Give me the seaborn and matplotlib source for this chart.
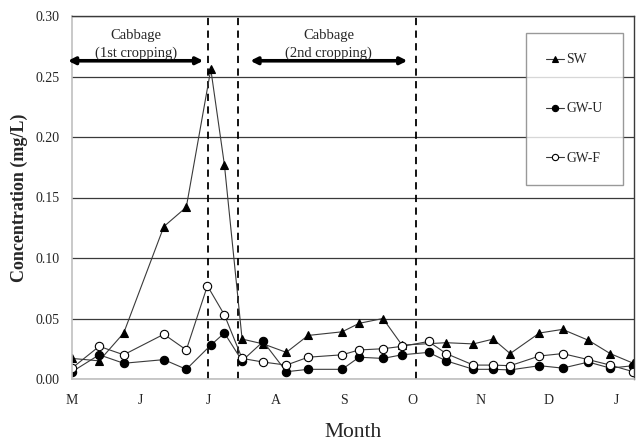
import matplotlib
import pandas as pd
import seaborn as sns

matplotlib.use("Agg")
import matplotlib.pyplot as plt

# sampling times, in months counted from 1 May
sw_month = [0, 0.40, 0.76, 1.35, 1.68, 2.04, 2.24, 2.50, 2.81, 3.15, 3.47, 3.97,
            4.22, 4.57, 4.85, 5.50, 5.90, 6.19, 6.44, 6.87, 7.21, 7.59, 7.91, 8.25]
sw_conc = [0.017, 0.015, 0.038, 0.126, 0.142, 0.256, 0.177, 0.033, 0.029, 0.022, 0.036, 0.039,
           0.046, 0.050, 0.028, 0.030, 0.029, 0.033, 0.021, 0.038, 0.041, 0.032, 0.021, 0.013]

gwu_month = [0, 0.40, 0.76, 1.35, 1.68, 2.04, 2.24, 2.50, 2.81, 3.15, 3.47, 3.97, 4.22,
             4.57, 4.85, 5.24, 5.50, 5.90, 6.19, 6.44, 6.87, 7.21, 7.59, 7.91, 8.25]
gwu_conc = [0.006, 0.020, 0.013, 0.016, 0.008, 0.028, 0.038, 0.015, 0.031, 0.006, 0.008, 0.008, 0.018,
            0.017, 0.020, 0.022, 0.015, 0.008, 0.008, 0.0075, 0.011, 0.009, 0.014, 0.009, 0.011]

gwf_month = [0, 0.40, 0.76, 1.35, 1.68, 1.99, 2.24, 2.50, 2.81, 3.15, 3.47, 3.97, 4.22,
             4.57, 4.85, 5.24, 5.50, 5.90, 6.19, 6.44, 6.87, 7.21, 7.59, 7.91, 8.25]
gwf_conc = [0.009, 0.027, 0.020, 0.037, 0.024, 0.077, 0.053, 0.017, 0.014, 0.0115, 0.018, 0.020, 0.024,
            0.025, 0.027, 0.031, 0.021, 0.0115, 0.0115, 0.011, 0.019, 0.021, 0.016, 0.0115, 0.006]

month_labels = ["M", "J", "J", "A", "S", "O", "N", "D", "J"]
crop_bounds = [2.0, 2.44, 5.06]
crop_periods = [("Cabbage\n(1st cropping)", -0.06, 1.93), ("Cabbage\n(2nd cropping)", 2.62, 4.93)]

sns.set_style("white")
plt.rcParams["font.family"] = ["Liberation Serif", "DejaVu Serif"]

fig = plt.figure(figsize=(6.36, 4.41), dpi=100)
ax = fig.add_axes([72 / 636, 1 - 379 / 441, 562 / 636, 363 / 441])

line_kw = dict(color="#3a3a3a", linewidth=0.8, markersize=6, markeredgewidth=0.8, sort=False, ax=ax)
sns.lineplot(x=sw_month, y=sw_conc, marker="^", markerfacecolor="black", markeredgecolor="black",
             label="SW", **line_kw)
sns.lineplot(x=gwu_month, y=gwu_conc, marker="o", markerfacecolor="black", markeredgecolor="black",
             label="GW-U", **line_kw)
sns.lineplot(x=gwf_month, y=gwf_conc, marker="o", markerfacecolor="white", markeredgecolor="black",
             label="GW-F", **line_kw)

for xb in crop_bounds:
    ax.axvline(xb, color="black", linestyle=(0, (4, 3)), linewidth=1.3, zorder=1)

for text, x0, x1 in crop_periods:
    ax.annotate("", xy=(x0, 0.263), xytext=(x1, 0.263),
                arrowprops=dict(arrowstyle="<|-|>", lw=2.6, color="black", mutation_scale=10,
                                shrinkA=0, shrinkB=0), annotation_clip=False)
    ax.text((x0 + x1) / 2, 0.2765, text, ha="center", va="center", fontsize=10.5, linespacing=1.45)

ax.set_xlim(0, 8.26)
ax.set_ylim(0, 0.30)
ax.set_xticks(range(len(month_labels)))
ax.set_xticklabels(month_labels, fontsize=10)
ax.set_yticks([0, 0.05, 0.10, 0.15, 0.20, 0.25, 0.30])
ax.set_yticklabels([f"{v:.2f}" for v in ax.get_yticks()], fontsize=10)
ax.tick_params(axis="x", direction="out", length=4, color="#b0b0b0", pad=7)
ax.tick_params(axis="y", direction="out", length=4, color="#b0b0b0", pad=5)
ax.grid(axis="y", color="#3a3a3a", linewidth=0.9)
ax.set_axisbelow(True)

for side in ["left", "bottom"]:
    ax.spines[side].set_color("#c0c0c0")
    ax.spines[side].set_linewidth(1.2)
for side in ["top", "right"]:
    ax.spines[side].set_color("#3a3a3a")
    ax.spines[side].set_linewidth(1.0)

ax.set_xlabel("Month", fontsize=15.5, labelpad=11)
ax.set_ylabel("Concentration (mg/L)", fontsize=13, fontweight="bold", labelpad=5)

leg = ax.legend(loc="upper left", bbox_to_anchor=(454 / 562, 1 - 17 / 363), frameon=True, fancybox=False,
                fontsize=9.8, labelspacing=2.65, handlelength=1.3, handletextpad=0.15,
                borderpad=1.5, borderaxespad=0, markerscale=0.75)
leg.get_frame().set_edgecolor("#808080")
leg.get_frame().set_linewidth(1.0)

fig.savefig("out.png", dpi=100)
